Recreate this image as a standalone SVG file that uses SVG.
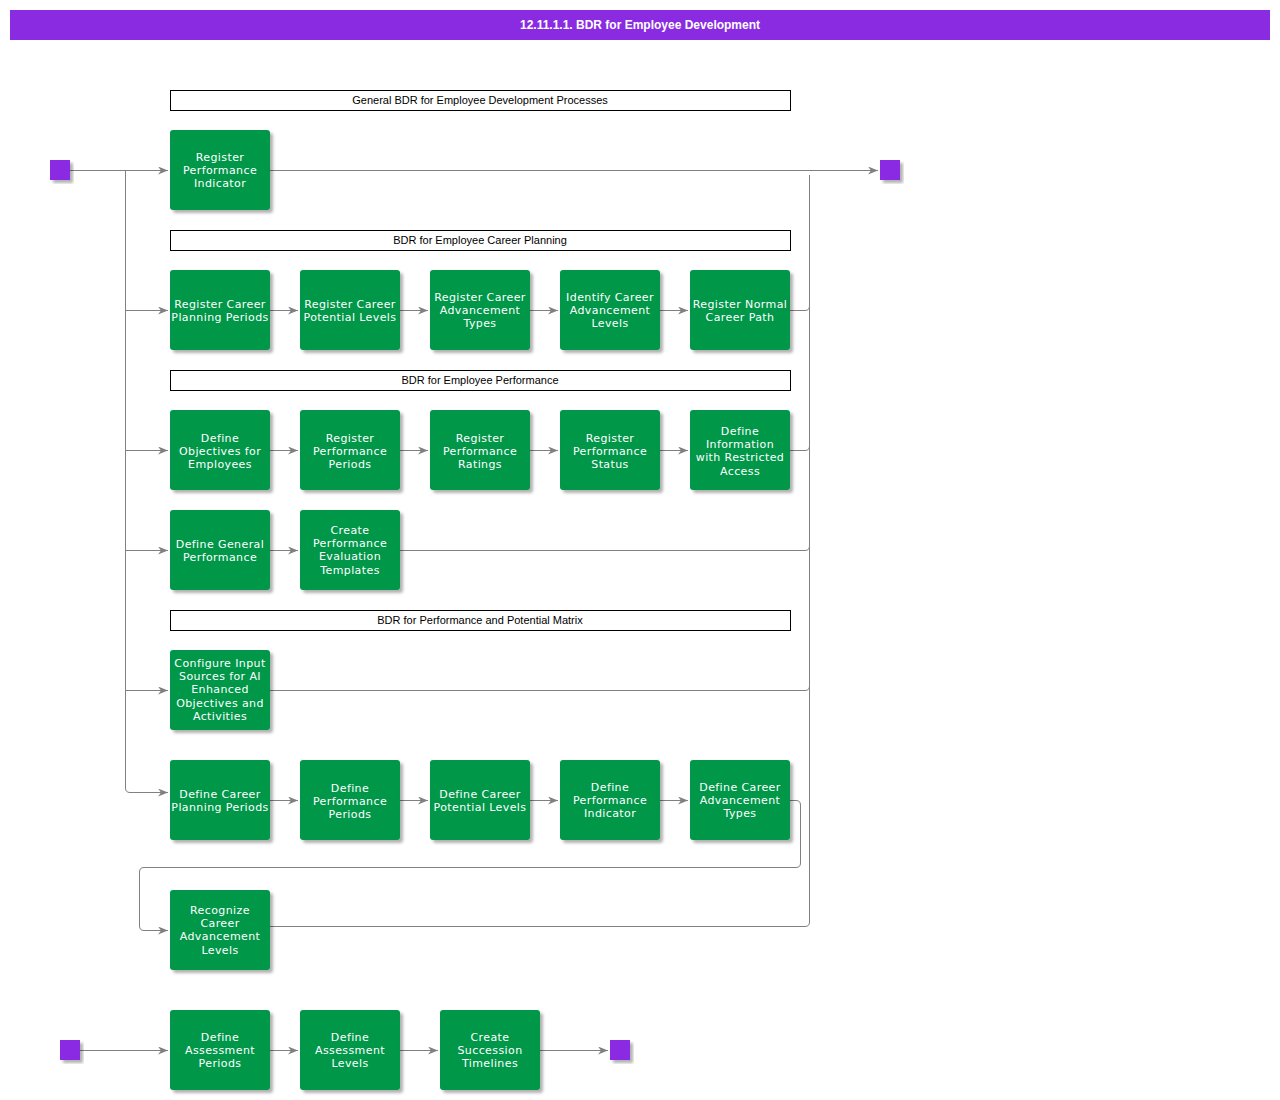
<svg xmlns="http://www.w3.org/2000/svg" width="1280" height="1100" viewBox="0 0 1280 1100">
<defs>
<style>
.n rect{fill:#009749;filter:url(#sh)}
.n text{fill:#fff;font-family:"DejaVu Sans",sans-serif;font-size:11px;text-anchor:middle;letter-spacing:0.4px}
.t{fill:#fff;stroke:#000;stroke-width:1}
.tt{font-family:"Liberation Sans",Arial,sans-serif;font-size:11px;text-anchor:middle}
.c path{fill:none;stroke:#808080;stroke-width:1}
.sq{fill:#8A2BE2;filter:url(#sh)}
</style>
<filter id="sh" x="-20%" y="-20%" width="140%" height="140%"><feDropShadow dx="3" dy="3" stdDeviation="1.5" flood-color="#000" flood-opacity="0.3"/></filter>
<marker id="a" markerWidth="10" markerHeight="8" refX="10" refY="4" orient="auto" markerUnits="userSpaceOnUse"><path d="M0,0 L10,4 L0,8 L3,4 Z" fill="#808080"/></marker>
</defs>
<rect width="1280" height="1100" fill="#fff"/>
<rect x="10" y="10" width="1260" height="30" fill="#8A2BE2"/>
<text x="640" y="29" fill="#fff" font-family="Liberation Sans,Arial,sans-serif" font-size="12" font-weight="bold" text-anchor="middle">12.11.1.1. BDR for Employee Development</text>

<g id="titles">
<rect class="t" x="170.5" y="90.5" width="620" height="20"/><text class="tt" x="480" y="104">General BDR for Employee Development Processes</text>
<rect class="t" x="170.5" y="230.5" width="620" height="20"/><text class="tt" x="480" y="244">BDR for Employee Career Planning</text>
<rect class="t" x="170.5" y="370.5" width="620" height="20"/><text class="tt" x="480" y="384">BDR for Employee Performance</text>
<rect class="t" x="170.5" y="610.5" width="620" height="20"/><text class="tt" x="480" y="624">BDR for Performance and Potential Matrix</text>
</g>

<g class="c" id="connectors">
<path d="M70,170.5 H168" marker-end="url(#a)"/>
<path d="M125.5,170.5 V788 Q125.5,792.5 130,792.5 H168" marker-end="url(#a)"/>
<path d="M125.5,310.5 H168" marker-end="url(#a)"/>
<path d="M125.5,450.5 H168" marker-end="url(#a)"/>
<path d="M125.5,550.5 H168" marker-end="url(#a)"/>
<path d="M125.5,690.5 H168" marker-end="url(#a)"/>
<path d="M270,170.5 H878" marker-end="url(#a)"/>
<path d="M809.5,175 V922 Q809.5,926.5 805,926.5 H270"/>
<path d="M790,310.5 H805 Q809.5,310.5 809.5,306"/>
<path d="M790,450.5 H805 Q809.5,450.5 809.5,446"/>
<path d="M400,550.5 H805 Q809.5,550.5 809.5,546"/>
<path d="M270,690.5 H805 Q809.5,690.5 809.5,686"/>
<path d="M270,310.5 H298" marker-end="url(#a)"/><path d="M400,310.5 H428" marker-end="url(#a)"/><path d="M530,310.5 H558" marker-end="url(#a)"/><path d="M660,310.5 H688" marker-end="url(#a)"/>
<path d="M270,450.5 H298" marker-end="url(#a)"/><path d="M400,450.5 H428" marker-end="url(#a)"/><path d="M530,450.5 H558" marker-end="url(#a)"/><path d="M660,450.5 H688" marker-end="url(#a)"/>
<path d="M270,550.5 H298" marker-end="url(#a)"/>
<path d="M270,800.5 H298" marker-end="url(#a)"/><path d="M400,800.5 H428" marker-end="url(#a)"/><path d="M530,800.5 H558" marker-end="url(#a)"/><path d="M660,800.5 H688" marker-end="url(#a)"/>
<path d="M790,800.5 H796 Q800.5,800.5 800.5,805 V863 Q800.5,867.5 796,867.5 H144 Q139.5,867.5 139.5,872 V926 Q139.5,930.5 144,930.5 H168" marker-end="url(#a)"/>
<path d="M80,1050.5 H168" marker-end="url(#a)"/><path d="M270,1050.5 H298" marker-end="url(#a)"/><path d="M400,1050.5 H438" marker-end="url(#a)"/><path d="M540,1050.5 H608" marker-end="url(#a)"/>
</g>

<rect class="sq" x="50" y="160" width="20" height="20"/>
<rect class="sq" x="880" y="160" width="20" height="20"/>
<rect class="sq" x="60" y="1040" width="20" height="20"/>
<rect class="sq" x="610" y="1040" width="20" height="20"/>

<g class="n" id="n1"><rect x="170" y="130" width="100" height="80" rx="3"/><text x="220" y="161">Register</text><text x="220" y="174">Performance</text><text x="220" y="187">Indicator</text></g>

<g class="n" id="n2"><rect x="170" y="270" width="100" height="80" rx="3"/><text x="220" y="308">Register Career</text><text x="220" y="321">Planning Periods</text></g>
<g class="n" id="n3"><rect x="300" y="270" width="100" height="80" rx="3"/><text x="350" y="308">Register Career</text><text x="350" y="321">Potential Levels</text></g>
<g class="n" id="n4"><rect x="430" y="270" width="100" height="80" rx="3"/><text x="480" y="301">Register Career</text><text x="480" y="314">Advancement</text><text x="480" y="327">Types</text></g>
<g class="n" id="n5"><rect x="560" y="270" width="100" height="80" rx="3"/><text x="610" y="301">Identify Career</text><text x="610" y="314">Advancement</text><text x="610" y="327">Levels</text></g>
<g class="n" id="n6"><rect x="690" y="270" width="100" height="80" rx="3"/><text x="740" y="308">Register Normal</text><text x="740" y="321">Career Path</text></g>

<g class="n" id="n7"><rect x="170" y="410" width="100" height="80" rx="3"/><text x="220" y="442">Define</text><text x="220" y="455">Objectives for</text><text x="220" y="468">Employees</text></g>
<g class="n" id="n8"><rect x="300" y="410" width="100" height="80" rx="3"/><text x="350" y="442">Register</text><text x="350" y="455">Performance</text><text x="350" y="468">Periods</text></g>
<g class="n" id="n9"><rect x="430" y="410" width="100" height="80" rx="3"/><text x="480" y="442">Register</text><text x="480" y="455">Performance</text><text x="480" y="468">Ratings</text></g>
<g class="n" id="n10"><rect x="560" y="410" width="100" height="80" rx="3"/><text x="610" y="442">Register</text><text x="610" y="455">Performance</text><text x="610" y="468">Status</text></g>
<g class="n" id="n11"><rect x="690" y="410" width="100" height="80" rx="3"/><text x="740" y="435">Define</text><text x="740" y="448">Information</text><text x="740" y="461">with Restricted</text><text x="740" y="475">Access</text></g>

<g class="n" id="n12"><rect x="170" y="510" width="100" height="80" rx="3"/><text x="220" y="548">Define General</text><text x="220" y="561">Performance</text></g>
<g class="n" id="n13"><rect x="300" y="510" width="100" height="80" rx="3"/><text x="350" y="534">Create</text><text x="350" y="547">Performance</text><text x="350" y="560">Evaluation</text><text x="350" y="574">Templates</text></g>

<g class="n" id="n14"><rect x="170" y="650" width="100" height="80" rx="3"/><text x="220" y="667">Configure Input</text><text x="220" y="680">Sources for AI</text><text x="220" y="693">Enhanced</text><text x="220" y="707">Objectives and</text><text x="220" y="720">Activities</text></g>

<g class="n" id="n15"><rect x="170" y="760" width="100" height="80" rx="3"/><text x="220" y="798">Define Career</text><text x="220" y="811">Planning Periods</text></g>
<g class="n" id="n16"><rect x="300" y="760" width="100" height="80" rx="3"/><text x="350" y="792">Define</text><text x="350" y="805">Performance</text><text x="350" y="818">Periods</text></g>
<g class="n" id="n17"><rect x="430" y="760" width="100" height="80" rx="3"/><text x="480" y="798">Define Career</text><text x="480" y="811">Potential Levels</text></g>
<g class="n" id="n18"><rect x="560" y="760" width="100" height="80" rx="3"/><text x="610" y="791">Define</text><text x="610" y="804">Performance</text><text x="610" y="817">Indicator</text></g>
<g class="n" id="n19"><rect x="690" y="760" width="100" height="80" rx="3"/><text x="740" y="791">Define Career</text><text x="740" y="804">Advancement</text><text x="740" y="817">Types</text></g>

<g class="n" id="n20"><rect x="170" y="890" width="100" height="80" rx="3"/><text x="220" y="914">Recognize</text><text x="220" y="927">Career</text><text x="220" y="940">Advancement</text><text x="220" y="954">Levels</text></g>

<g class="n" id="n21"><rect x="170" y="1010" width="100" height="80" rx="3"/><text x="220" y="1041">Define</text><text x="220" y="1054">Assessment</text><text x="220" y="1067">Periods</text></g>
<g class="n" id="n22"><rect x="300" y="1010" width="100" height="80" rx="3"/><text x="350" y="1041">Define</text><text x="350" y="1054">Assessment</text><text x="350" y="1067">Levels</text></g>
<g class="n" id="n23"><rect x="440" y="1010" width="100" height="80" rx="3"/><text x="490" y="1041">Create</text><text x="490" y="1054">Succession</text><text x="490" y="1067">Timelines</text></g>
</svg>
